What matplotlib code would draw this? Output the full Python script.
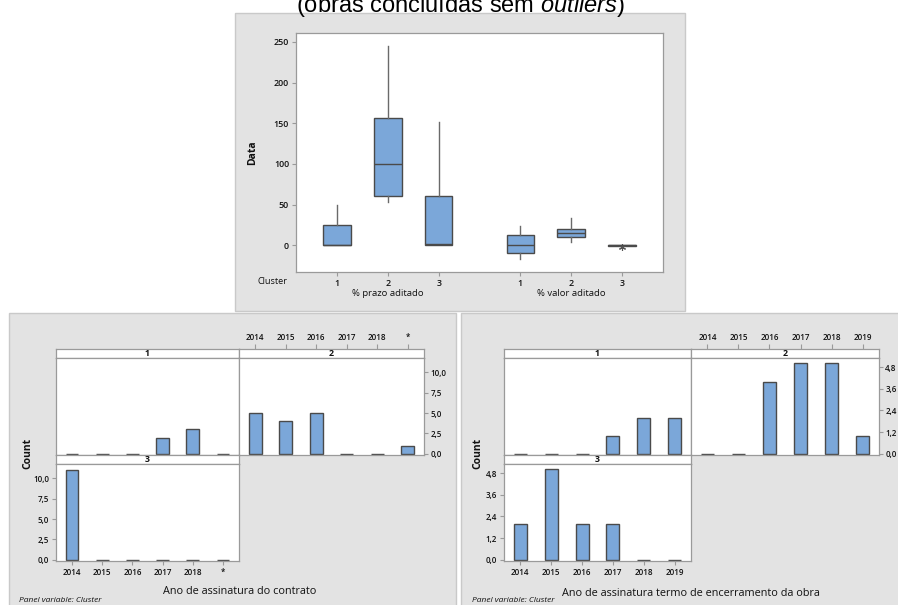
import matplotlib
matplotlib.use("Agg")
import matplotlib.pyplot as plt
from matplotlib.patches import Rectangle
from matplotlib.transforms import blended_transform_factory
import numpy as np

# ---------------- data ----------------
clusters = ["1", "2", "3"]
box_groups = ["% prazo aditado", "% valor aditado"]

prazo_whislo = [0, 53, 0]
prazo_q1 = [0, 60, 0]
prazo_med = [0, 100, 1.5]
prazo_q3 = [25, 157, 61]
prazo_whishi = [50, 245, 152]
prazo_fliers = [[], [], []]

valor_whislo = [-17.5, 4.5, -0.5]
valor_q1 = [-9.5, 10, -0.5]
valor_med = [0, 14.5, 0]
valor_q3 = [12.5, 20, 0.5]
valor_whishi = [24, 34, 0.5]
valor_fliers = [[], [], [-2.5]]

box_yticks = [0, 50, 100, 150, 200, 250]

years_contrato = ["2014", "2015", "2016", "2017", "2018", "*"]
contrato_c1 = [0, 0, 0, 2, 3, 0]
contrato_c2 = [5, 4, 5, 0, 0, 1]
contrato_c3 = [11, 0, 0, 0, 0, 0]
contrato_yticks = [0.0, 2.5, 5.0, 7.5, 10.0]

years_encerr = ["2014", "2015", "2016", "2017", "2018", "2019"]
encerr_c1 = [0, 0, 0, 1, 2, 2]
encerr_c2 = [0, 0, 4, 5, 5, 1]
encerr_c3 = [2, 5, 2, 2, 0, 0]
encerr_yticks = [0.0, 1.2, 2.4, 3.6, 4.8]

title = "(obras concluídas sem $\\mathit{outliers}$)"
xlabel_contrato = "Ano de assinatura do contrato"
xlabel_encerr = "Ano de assinatura termo de encerramento da obra"
panel_note = "Panel variable: Cluster"

# ---------------- style ----------------
plt.rcParams['font.family'] = ['Open Sans', 'Noto Sans', 'DejaVu Sans']
plt.rcParams['mathtext.fontset'] = 'custom'
plt.rcParams['mathtext.it'] = 'Liberation Sans:italic'
plt.rcParams['mathtext.rm'] = 'Liberation Sans'

W, H = 898, 605
BG = '#e3e3e3'
BGE = '#c9c9c9'
SP = '#9a9a9a'
BOX = '#7ba7d9'
EDGE = '#4a4a4a'
TXT = '#111111'
TW = 'semibold'

fig = plt.figure(figsize=(W / 100, H / 100), dpi=100)
fig.patch.set_facecolor('white')


def rect(x0, y0, x1, y1):
    return [x0 / W, 1 - y1 / H, (x1 - x0) / W, (y1 - y0) / H]


def bg(x0, y0, x1, y1):
    fig.add_artist(Rectangle((x0 / W, 1 - y1 / H), (x1 - x0) / W, (y1 - y0) / H,
                             transform=fig.transFigure, facecolor=BG,
                             edgecolor=BGE, lw=1, zorder=-5))


def ftext(x, y, s, **kw):
    kw.setdefault('ha', 'center')
    kw.setdefault('va', 'center')
    kw.setdefault('color', TXT)
    return fig.text(x / W, 1 - y / H, s, **kw)


def style_spines(ax):
    for s in ax.spines.values():
        s.set_color(SP)
        s.set_linewidth(0.9)


def weight_ticks(ax):
    for lab in ax.get_xticklabels() + ax.get_yticklabels():
        lab.set_fontweight(TW)


# ---------------- backgrounds ----------------
bg(234.5, 12.5, 684.5, 311)
bg(8.5, 312.5, 456, 606)
bg(460.5, 312.5, 899, 606)

# ---------------- title ----------------
fig.text(460 / W, 1 - 12 / H, title, ha='center', va='baseline',
         fontsize=17, family='Liberation Sans', color='black')

# ---------------- boxplot ----------------
axb = fig.add_axes(rect(296, 33, 663, 272))
style_spines(axb)
group_data = [
    (prazo_whislo, prazo_q1, prazo_med, prazo_q3, prazo_whishi, prazo_fliers),
    (valor_whislo, valor_q1, valor_med, valor_q3, valor_whishi, valor_fliers),
]
stats, positions = [], []
group_centers = []
group_offset = len(clusters) + 0.6
for g, (lo, q1, med, q3, hi, fl) in enumerate(group_data):
    ps = []
    for i in range(len(clusters)):
        stats.append(dict(whislo=lo[i], q1=q1[i], med=med[i], q3=q3[i],
                          whishi=hi[i], fliers=fl[i], label=clusters[i]))
        p = 1 + i + g * group_offset
        positions.append(p)
        ps.append(p)
    group_centers.append(np.mean(ps))

axb.bxp(stats, positions=positions, widths=0.54, patch_artist=True,
        showcaps=False,
        boxprops=dict(facecolor=BOX, edgecolor=EDGE, linewidth=1.0),
        medianprops=dict(color=EDGE, linewidth=1.0),
        whiskerprops=dict(color='#6a6a6a', linewidth=1.0),
        flierprops=dict(marker=(6, 2, 0), markersize=5, markeredgecolor='#555555',
                        markerfacecolor='none', markeredgewidth=0.8))
axb.set_xlim(0.2, 7.4)
axb.set_ylim(-33, 261)
axb.set_yticks(box_yticks)
axb.set_yticklabels([str(v) for v in box_yticks])
axb.set_xticks(positions)
axb.set_xticklabels(clusters * len(box_groups))
axb.tick_params(axis='both', length=3, width=0.8, color=SP, labelsize=6.4,
                labelcolor=TXT, pad=2)
weight_ticks(axb)
trans = blended_transform_factory(axb.transData, axb.transAxes)
for gc, gl in zip(group_centers, box_groups):
    axb.text(gc, -22 / 239, gl, transform=trans, ha='center', va='center',
             fontsize=6.8, color=TXT)
ftext(273, 281.5, "Cluster", fontsize=6.6)
ftext(253, 153, "Data", fontsize=7.5, fontweight='bold', rotation=90)


# ---------------- facet bar charts ----------------
def facet(xl, xs, xr, cats, c1, c2, c3, yticks, ytop, xlabel, xlab_x, xlab_y,
          count_x, note_x):
    n = len(cats)
    x = np.arange(n)
    xlim = (-0.53, n - 1 + 0.53)
    ylim = (-ytop * 0.012, ytop)
    ylabels = [f"{v:.1f}".replace('.', ',') for v in yticks]

    def strip(x0, y0, x1, y1, label):
        a = fig.add_axes(rect(x0, y0, x1, y1))
        a.set_facecolor('white')
        style_spines(a)
        a.set_xlim(xlim)
        a.set_ylim(0, 1)
        a.set_xticks([])
        a.set_yticks([])
        a.text(0.5, 0.45, label, transform=a.transAxes, ha='center', va='center',
               fontsize=6.3, fontweight='bold', color=TXT)
        return a

    def panel(x0, y0, x1, y1, vals):
        a = fig.add_axes(rect(x0, y0, x1, y1))
        a.set_facecolor('white')
        style_spines(a)
        a.bar(x, vals, width=0.42, color=BOX, edgecolor=EDGE, linewidth=1.0)
        a.set_xlim(xlim)
        a.set_ylim(ylim)
        a.set_xticks([])
        a.set_yticks([])
        return a

    strip(xl, 349, xs, 358, "1")
    s2 = strip(xs, 349, xr, 358, "2")
    s2.xaxis.tick_top()
    s2.set_xticks(x)
    s2.set_xticklabels(cats)
    s2.tick_params(axis='x', length=3.5, width=0.8, color=SP, labelsize=5.8,
                   labelcolor=TXT, pad=1.5)
    weight_ticks(s2)

    panel(xl, 358, xs, 455, c1)
    a2 = panel(xs, 358, xr, 455, c2)
    a2.yaxis.tick_right()
    a2.set_yticks(yticks)
    a2.set_yticklabels(ylabels)
    a2.tick_params(axis='y', length=3, width=0.8, color=SP, labelsize=5.8,
                   labelcolor=TXT, pad=1.5)
    weight_ticks(a2)

    strip(xl, 455, xs, 464, "3")
    a3 = panel(xl, 464, xs, 561, c3)
    a3.set_yticks(yticks)
    a3.set_yticklabels(ylabels)
    a3.set_xticks(x)
    a3.set_xticklabels(cats)
    a3.tick_params(axis='both', length=3, width=0.8, color=SP, labelsize=5.8,
                   labelcolor=TXT, pad=2)
    weight_ticks(a3)

    ftext(xlab_x, xlab_y, xlabel, fontsize=7.8)
    ftext(count_x, 453, "Count", fontsize=7.5, fontweight='bold', rotation=90)
    ftext(note_x, 601, panel_note, fontsize=6, style='italic', ha='left')


facet(56, 239, 424, years_contrato, contrato_c1, contrato_c2, contrato_c3,
      contrato_yticks, 11.75, xlabel_contrato, 240, 592, 28, 19)
facet(504, 691, 879, years_encerr, encerr_c1, encerr_c2, encerr_c3,
      encerr_yticks, 5.3, xlabel_encerr, 691, 594, 478, 472)

fig.savefig("out.png", dpi=100)
